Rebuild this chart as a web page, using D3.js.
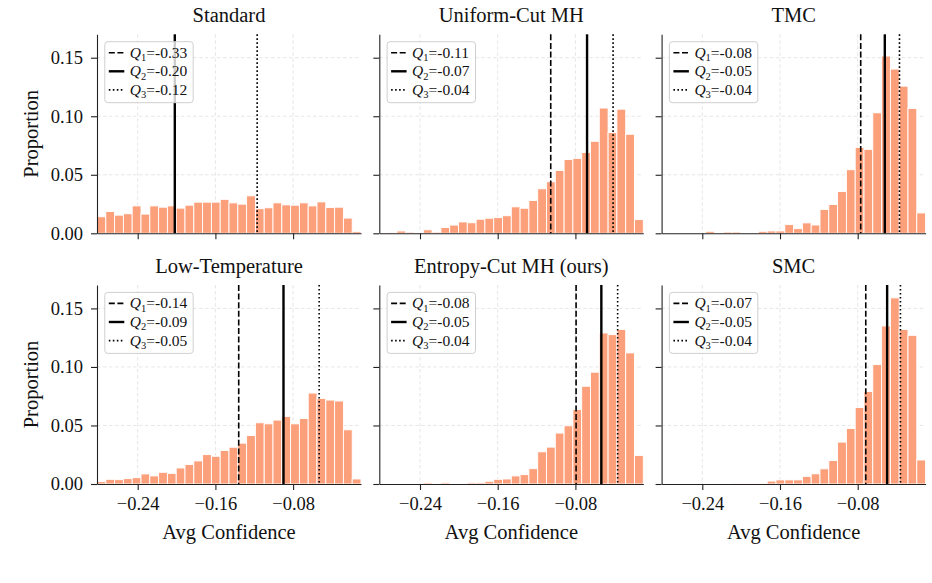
<!DOCTYPE html>
<html>
<head>
<meta charset="utf-8">
<script src="https://cdn.jsdelivr.net/npm/d3@7"></script>
<style>
  body { margin: 0; background: #fff; }
  svg { display: block; }
  svg text { font-family: "Liberation Serif", "DejaVu Serif", serif !important; fill: #111; }
</style>
</head>
<body>
<svg id="chart"></svg>
<script>
// histogram bins (30 equal bins on the Avg Confidence axis)
const binStart = -0.2819
const binWidth = 0.00906

const titles = ["Standard", "Uniform-Cut MH", "TMC", "Low-Temperature", "Entropy-Cut MH (ours)", "SMC"]

// proportion per bin
const standard = [0.0141, 0.0186, 0.0155, 0.0167, 0.0234, 0.0164, 0.0234, 0.0223, 0.0234, 0.0215,
  0.0240, 0.0266, 0.0266, 0.0266, 0.0290, 0.0260, 0.0249, 0.0320, 0.0210, 0.0218,
  0.0260, 0.0243, 0.0240, 0.0260, 0.0234, 0.0268, 0.0220, 0.0223, 0.0130, 0.0014]
const uniformCut = [0.0002, 0.0006, 0.0020, 0.0010, 0.0003, 0.0030, 0.0010, 0.0050, 0.0070, 0.0097,
  0.0090, 0.0120, 0.0129, 0.0134, 0.0150, 0.0226, 0.0214, 0.0280, 0.0380, 0.0440,
  0.0537, 0.0630, 0.0640, 0.0690, 0.0786, 0.1070, 0.0860, 0.1060, 0.0846, 0.0117]
const tmc = [0, 0, 0, 0, 0, 0.0017, 0, 0.0011, 0.0011, 0,
  0.0003, 0.0017, 0.0020, 0.0020, 0.0074, 0.0040, 0.0089, 0.0071, 0.0203, 0.0246,
  0.0357, 0.0543, 0.0734, 0.0717, 0.1029, 0.1514, 0.1403, 0.1257, 0.1066, 0.0174]
const lowTemp = [0.0020, 0.0040, 0.0037, 0.0046, 0.0054, 0.0086, 0.0069, 0.0100, 0.0091, 0.0137,
  0.0166, 0.0197, 0.0251, 0.0237, 0.0286, 0.0314, 0.0349, 0.0414, 0.0523, 0.0514,
  0.0546, 0.0577, 0.0514, 0.0560, 0.0777, 0.0731, 0.0717, 0.0709, 0.0463, 0.0043]
const entropyCut = [0, 0, 0, 0, 0, 0.0011, 0, 0.0011, 0.0004, 0.0004,
  0.0011, 0.0011, 0.0023, 0.0040, 0.0043, 0.0069, 0.0080, 0.0131, 0.0275, 0.0315,
  0.0435, 0.0497, 0.0636, 0.0835, 0.0955, 0.1290, 0.1276, 0.1320, 0.1120, 0.0244]
const smc = [0, 0, 0, 0, 0, 0, 0, 0, 0.0002, 0.0002,
  0.0002, 0.0003, 0.0025, 0.0035, 0.0035, 0.0035, 0.0065, 0.0087, 0.0130, 0.0200,
  0.0358, 0.0474, 0.0653, 0.0790, 0.1020, 0.1350, 0.1590, 0.1320, 0.1270, 0.0205]

// Q1, Q2, Q3 for each panel
const quartiles = [
  [-0.33, -0.2018, -0.117],
  [-0.1054, -0.068, -0.0412],
  [-0.0769, -0.0521, -0.037],
  [-0.136, -0.0899, -0.0532],
  [-0.0793, -0.0533, -0.0365],
  [-0.0717, -0.0497, -0.036]
]

const xTicks = [-0.24, -0.16, -0.08]
const yTicks = [0, 0.05, 0.10, 0.15]

const series = [standard, uniformCut, tmc, lowTemp, entropyCut, smc]

let dimensions = {
  width: 932, height: 583,
  left: 97, top: 34.3,
  panelWidth: 264, panelHeight: 199,
  colStep: 282.3, rowStep: 250.7,
}

const serif = "'Liberation Serif', 'DejaVu Serif', serif"
const barColor = "#fca07c"
const quartileStyles = [
  { dash: "6,2.6", width: 1.6 },
  { dash: null, width: 2.4 },
  { dash: "1.6,2.4", width: 1.6 },
]

const wrapper = d3.select("#chart")
  .attr("width", dimensions.width)
  .attr("height", dimensions.height)

const xScale = d3.scaleLinear()
  .domain([binStart, binStart + binWidth * 30])
  .range([0, dimensions.panelWidth])

const yScale = d3.scaleLinear()
  .domain([0, 0.17])
  .range([dimensions.panelHeight, 0])

series.forEach((values, i) => {
  const col = i % 3
  const row = Math.floor(i / 3)
  const bounds = wrapper.append("g")
    .attr("transform", `translate(${dimensions.left + col * dimensions.colStep}, ${dimensions.top + row * dimensions.rowStep})`)

  // grid
  bounds.append("g").selectAll("line").data(xTicks).join("line")
    .attr("x1", d => xScale(d)).attr("x2", d => xScale(d))
    .attr("y1", 0).attr("y2", dimensions.panelHeight)
    .attr("stroke", "#e3e3e3").attr("stroke-width", 0.9).attr("stroke-dasharray", "3.5,2.5")
  bounds.append("g").selectAll("line").data(yTicks.slice(1)).join("line")
    .attr("x1", 0).attr("x2", dimensions.panelWidth)
    .attr("y1", d => yScale(d)).attr("y2", d => yScale(d))
    .attr("stroke", "#e3e3e3").attr("stroke-width", 0.9).attr("stroke-dasharray", "3.5,2.5")

  // bars
  const bins = values.map((v, k) => ({ x0: binStart + k * binWidth, x1: binStart + (k + 1) * binWidth, v }))
  bounds.append("g").selectAll("rect").data(bins.filter(b => b.v > 0)).join("rect")
    .attr("x", d => xScale(d.x0))
    .attr("width", d => xScale(d.x1) - xScale(d.x0))
    .attr("y", d => yScale(d.v))
    .attr("height", d => dimensions.panelHeight - yScale(d.v))
    .attr("fill", barColor)
    .attr("stroke", "#fff")
    .attr("stroke-width", 0.9)

  // quartile lines (only those inside the x range show)
  const [lo, hi] = xScale.domain()
  quartiles[i].forEach((q, k) => {
    if (q < lo || q > hi) return
    bounds.append("line")
      .attr("x1", xScale(q)).attr("x2", xScale(q))
      .attr("y1", 0).attr("y2", dimensions.panelHeight)
      .attr("stroke", "#000")
      .attr("stroke-width", quartileStyles[k].width)
      .attr("stroke-dasharray", quartileStyles[k].dash)
  })

  // axes
  const yAxisGenerator = d3.axisLeft(yScale)
    .tickValues(yTicks).tickSize(6).tickPadding(8).tickSizeOuter(0)
    .tickFormat(col === 0 ? d3.format(".2f") : () => "")
  const yAxis = bounds.append("g").call(yAxisGenerator)

  const xAxisGenerator = d3.axisBottom(xScale)
    .tickValues(xTicks).tickSize(6).tickPadding(7).tickSizeOuter(0)
    .tickFormat(row === 1 ? d3.format(".2f") : () => "")
  const xAxis = bounds.append("g").call(xAxisGenerator)
    .attr("transform", `translate(0, ${dimensions.panelHeight})`)

  ;[yAxis, xAxis].forEach(a => {
    a.attr("font-family", serif).attr("font-size", 18.5)
    a.select(".domain").attr("stroke", "#222").attr("stroke-width", 1.1)
    a.selectAll(".tick line").attr("stroke", "#222").attr("stroke-width", 1.1)
    a.selectAll(".tick text").attr("fill", "#111")
  })

  // title
  bounds.append("text")
    .attr("x", dimensions.panelWidth / 2)
    .attr("y", -12.5)
    .attr("text-anchor", "middle")
    .style("font-size", "20.5px")
    .text(titles[i])

  if (col === 0) {
    bounds.append("text")
      .attr("transform", `translate(-59, ${dimensions.panelHeight / 2}) rotate(-90)`)
      .attr("text-anchor", "middle")
      .style("font-size", "20.5px")
      .text("Proportion")
  }
  if (row === 1) {
    bounds.append("text")
      .attr("x", dimensions.panelWidth / 2)
      .attr("y", dimensions.panelHeight + 55)
      .attr("text-anchor", "middle")
      .style("font-size", "20.5px")
      .text("Avg Confidence")
  }

  // legend
  const legend = bounds.append("g").attr("transform", "translate(7.8, 7.4)")
  legend.append("rect")
    .attr("width", 88.4).attr("height", 61).attr("rx", 3)
    .attr("fill", "#fff").attr("fill-opacity", 0.8)
    .attr("stroke", "#cfcfcf").attr("stroke-width", 1)
  quartiles[i].forEach((q, k) => {
    const yy = 11 + k * 18.6
    legend.append("line")
      .attr("x1", 4).attr("x2", 19.5).attr("y1", yy).attr("y2", yy)
      .attr("stroke", "#000")
      .attr("stroke-width", quartileStyles[k].width)
      .attr("stroke-dasharray", quartileStyles[k].dash)
    const t = legend.append("text").attr("x", 25).attr("y", yy + 5).style("font-size", "15.5px")
    t.append("tspan").style("font-style", "italic").text("Q")
    t.append("tspan").attr("dy", 3.5).style("font-size", "10.5px").text(k + 1)
    t.append("tspan").attr("dy", -3.5).text("=" + q.toFixed(2))
  })
})
</script>
</body>
</html>
